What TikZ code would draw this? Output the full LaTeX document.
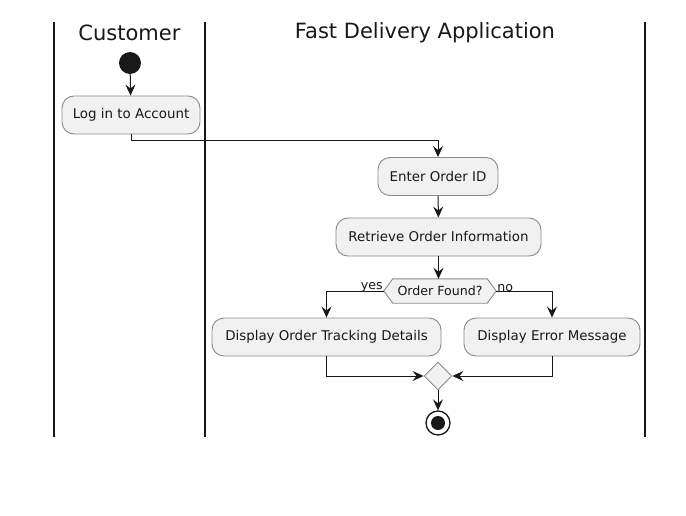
\documentclass[tikz,border=0pt]{standalone}
\usepackage{fontspec}
\setmainfont{DejaVu Sans}
\usetikzlibrary{arrows.meta,shapes.geometric,backgrounds}
\definecolor{boxfill}{HTML}{F1F1F1}
\definecolor{boxline}{HTML}{8A8A8A}
\definecolor{ink}{HTML}{181818}
\tikzset{
  act/.style={draw=boxline, fill=boxfill, rounded corners=12pt, line width=0.9pt,
    minimum height=38pt, inner sep=0pt, font=\fontsize{13.4}{15}\selectfont, text=ink},
  flow/.style={draw=ink, line width=1pt, -{Stealth[length=11pt,width=10pt,inset=4pt]}},
  lane/.style={draw=ink, line width=2pt},
  head/.style={font=\fontsize{21}{24}\selectfont, text=ink, inner sep=0pt},
  lbl/.style={font=\fontsize{12.6}{14}\selectfont, text=ink, inner sep=0pt},
}
\begin{document}
\begin{tikzpicture}[x=1pt,y=-1pt]
\useasboundingbox (0,0) rectangle (686,516);
% lanes
\coordinate (l1t) at (54,22); \coordinate (l1b) at (54,437);
\coordinate (l2t) at (205,22); \coordinate (l2b) at (205,437);
\coordinate (l3t) at (645,22); \coordinate (l3b) at (645,437);
\draw[lane] (l1t) -- (l1b);
\draw[lane] (l2t) -- (l2b);
\draw[lane] (l3t) -- (l3b);
\node[head] (hc) at (129.5,33) {Customer};
\node[head] (hf) at (425,33) {Fast Delivery Application};
% nodes
\node[circle, fill=ink, minimum size=22pt, inner sep=0pt] (start) at (130,63) {};
\node[act, minimum width=138pt] (login) at (131,115) {Log in to Account};
\node[act, minimum width=120pt] (enter) at (438,176.5) {Enter Order ID};
\node[act, minimum width=205pt] (retr) at (438.5,237) {Retrieve Order Information};
\node[minimum width=112pt, minimum height=24pt, inner sep=0pt, font=\fontsize{12.6}{14}\selectfont, text=ink] (dec) at (440,291) {Order Found?};
\begin{scope}[on background layer]
\fill[white] (0,0) rectangle (686,516);
\draw[draw=boxline, fill=boxfill, line width=0.9pt] (dec.west) -- ([xshift=9pt]dec.north west) -- ([xshift=-9pt]dec.north east) -- (dec.east) -- ([xshift=-9pt]dec.south east) -- ([xshift=9pt]dec.south west) -- cycle;
\end{scope}
\node[act, minimum width=229pt] (track) at (326.5,337) {Display Order Tracking Details};
\node[act, minimum width=176pt] (err) at (552,337) {Display Error Message};
\node[diamond, draw=boxline, fill=boxfill, line width=0.9pt, minimum width=28pt, minimum height=28pt, inner sep=0pt] (merge) at (438,376) {};
\node[circle, draw=ink, fill=white, line width=1.3pt, minimum size=24pt, inner sep=0pt] (stop) at (438,423) {};
\fill[ink] (stop.center) circle (7pt);
% connectors
\draw[flow] (start) -- (login);
\draw[flow] (login.south) -- ++(0,6) -| (enter.north);
\draw[flow] (enter) -- (retr);
\draw[flow] (retr.south) -- (dec.north -| retr.south);
\draw[flow] (dec.west) -| (track.north);
\draw[flow] (dec.east) -| (err.north);
\draw[flow] (track.south) |- (merge.west);
\draw[flow] (err.south) |- (merge.east);
\draw[flow] (merge) -- (stop);
\node[lbl, anchor=south east] (yes) at ([xshift=-1pt,yshift=-1pt]dec.west) {yes};
\node[lbl, anchor=south west] (no) at ([xshift=1pt,yshift=-1pt]dec.east) {no};
\end{tikzpicture}
\end{document}
